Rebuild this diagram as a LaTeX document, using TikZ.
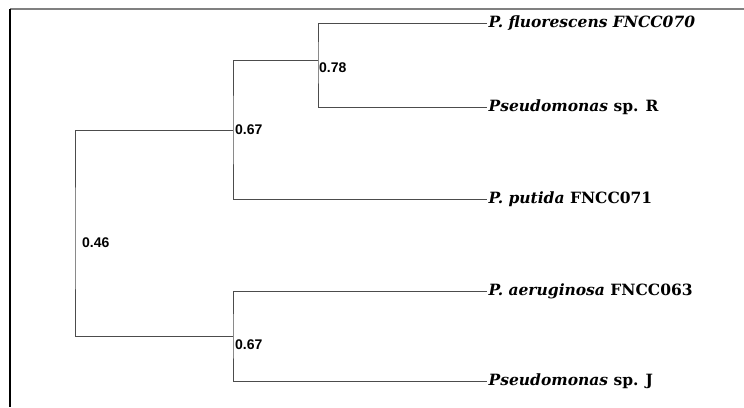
\documentclass[tikz,border=0pt]{standalone}
\usepackage{fontspec}
\setmainfont{DejaVu Serif}
\newfontfamily\numfont{Liberation Sans}
\begin{document}
\begin{tikzpicture}[x=1pt,y=-1pt,
  branch/.style={draw=black!70, line width=1pt},
  leaf/.style={anchor=west, inner sep=1.5pt, font=\fontsize{15.5}{17}\selectfont\bfseries},
  support/.style={anchor=west, inner sep=1pt, font=\numfont\bfseries\fontsize{14}{16}\selectfont}]
\useasboundingbox (0,0) rectangle (744,407);
\fill[white] (0,0) rectangle (744,407);
% frame
\draw[black!50, line width=1.5pt] (10,9) -- (744,9);
\draw[black, line width=2pt] (10,9) -- (10,407);

% leaves
\node[leaf] (l1) at (487,23)  {\textit{P. fluorescens FNCC070}};
\node[leaf] (l2) at (487,107) {\textit{Pseudomonas} sp. R};
\node[leaf] (l3) at (487,199) {\textit{P. putida} FNCC071};
\node[leaf] (l4) at (487,291) {\textit{P. aeruginosa} FNCC063};
\node[leaf] (l5) at (487,381) {\textit{Pseudomonas} sp. J};

% internal nodes
\coordinate (n78)  at (318,60);
\coordinate (n67a) at (233,130);
\coordinate (n67b) at (233,336);
\coordinate (root) at (75,243);

% branches
\draw[branch] (l1.west) -| (n78) |- (l2.west);
\draw[branch] (n78) -| (n67a) |- (l3.west);
\draw[branch] (l4.west) -| (n67b) |- (l5.west);
\draw[branch] (n67a) -| (root) |- (n67b);

% support values
\node[support] (s78)  at ([yshift=-8pt]n78)  {0.78};
\node[support] (s67a) at ([xshift=1pt]n67a) {0.67};
\node[support] (s46)  at ([xshift=6pt]root)  {0.46};
\node[support] (s67b) at ([yshift=-9pt,xshift=1pt]n67b) {0.67};
\end{tikzpicture}
\end{document}
